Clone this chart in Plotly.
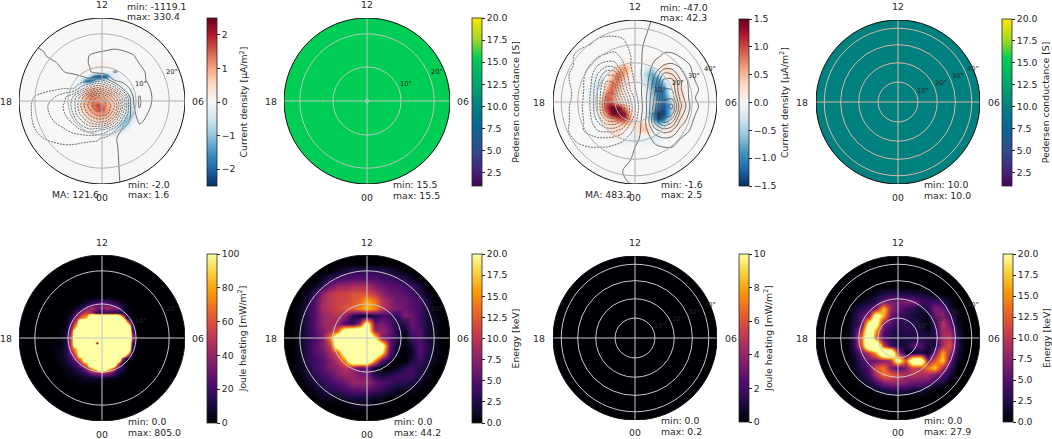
import numpy as np
import plotly.graph_objects as go
import plotly.express as px

W, H = 1052, 439
S = 300  # saturated well past the colourbar top

zero_row = [0] * 21

# current density, panel 1, tenths of uA/m2, grid spans +-0.5 of the disc radius
current_a = [
    zero_row,
    [0, 0, 0, 0, 0, 0, 0, 0, 1, 1, 1, 1, 1, 0, 0, 0, 0, 0, 0, 0, 0],
    [0, 0, 0, 0, 0, 0, 1, 1, 2, 3, 3, 2, 1, 1, 0, 0, 0, 0, 0, 0, 0],
    [0, 0, 0, 0, 0, 1, 1, 0, -1, -3, -3, -3, -3, -2, -1, 0, 0, 0, 0, 0, 0],
    [0, 0, 0, 0, 0, 0, -1, -8, -18, -22, -22, -20, -6, -3, -2, -1, 0, 0, 0, 0, 0],
    [0, 0, 0, 0, -1, -6, -18, -20, -12, -6, -3, -2, -2, -2, -1, -1, 0, 0, 0, 0, 0],
    [0, 0, 0, 0, -2, -5, -4, -1, 2, 2, 2, 2, 1, -1, -1, -1, -1, 0, 0, 0, 0],
    [0, 0, 0, -1, -3, -1, 4, 7, 8, 7, 6, 5, 4, 2, 1, -1, -2, -1, 0, 0, 0],
    [0, 0, 0, -1, -2, 2, 7, 11, 11, 9, 8, 7, 6, 4, 2, 0, -2, -2, 0, 0, 0],
    [0, 0, 0, -1, -1, 5, 9, 12, 12, 10, 9, 8, 7, 5, 3, 1, -3, -3, -1, 0, 0],
    [0, 0, 0, -1, 1, 6, 9, 11, 13, 13, 11, 9, 7, 5, 3, 1, -3, -5, -1, 0, 0],
    [0, 0, 0, -1, 1, 6, 8, 10, 14, 16, 14, 10, 8, 5, 3, 1, -4, -6, -2, 0, 0],
    [0, 0, 0, -1, 1, 4, 7, 9, 12, 15, 16, 11, 8, 5, 3, 1, -4, -7, -2, 0, 0],
    [0, 0, 0, -1, -1, 3, 6, 8, 9, 11, 12, 10, 7, 5, 3, -1, -6, -8, -2, 0, 0],
    [0, 0, 0, 0, -1, 1, 4, 5, 7, 8, 8, 7, 6, 4, 2, -3, -10, -6, -1, 0, 0],
    [0, 0, 0, 0, -1, -1, 2, 4, 4, 5, 5, 5, 4, 2, -1, -8, -12, -3, 0, 0, 0],
    [0, 0, 0, 0, 0, -1, -1, 1, 2, 2, 2, 2, 1, -2, -6, -12, -6, -1, 0, 0, 0],
    [0, 0, 0, 0, 0, 0, -1, -1, -1, -1, -1, -1, -2, -4, -6, -3, -1, 0, 0, 0, 0],
    [0, 0, 0, 0, 0, 0, 0, -1, -1, -1, -1, -2, -3, -3, -2, 0, 0, 1, 0, 0, 0],
    zero_row,
    zero_row,
]

# current density, panel 3, tenths of uA/m2, grid spans +-0.7
current_b = [
    zero_row,
    zero_row,
    zero_row,
    [0, 0, 0, 0, 0, 0, 0, 0, 1, 1, 0, 0, 1, 1, 1, 0, 0, 0, 0, 0, 0],
    [0, 0, 0, 0, 0, -1, 0, 4, 7, 3, 0, 0, -2, -4, 1, 3, 2, 0, 0, 0, 0],
    [0, 0, 0, 0, -1, -1, 4, 8, 6, 2, 0, -1, -5, -8, -3, 1, 3, 2, 0, 0, 0],
    [0, 0, 0, -1, -2, 1, 6, 8, 4, 1, 0, -1, -4, -8, -9, -3, 2, 3, 1, 0, 0],
    [0, 0, -1, -2, -2, 4, 9, 6, 2, 1, 0, 0, -3, -8, -10, -7, 0, 3, 2, 0, 0],
    [0, 0, -1, -2, -1, 7, 9, 4, 1, 0, 0, 0, -2, -6, -11, -10, -2, 3, 3, 0, 0],
    [0, 0, -1, -2, 2, 9, 8, 3, 1, 0, 0, 0, -1, -5, -10, -11, -4, 2, 3, 0, 0],
    [0, 0, -1, -2, 4, 10, 9, 3, 1, 0, 0, 0, -1, -4, -9, -12, -6, 2, 3, 1, 0],
    [0, 0, 0, -2, 4, 11, 15, 15, 8, 2, 0, 0, -1, -5, -11, -13, -7, 2, 3, 1, 0],
    [0, 0, 0, -1, 3, 8, 14, 15, 14, 5, 0, 0, -2, -8, -15, -14, -7, 2, 3, 0, 0],
    [0, 0, 0, -1, 1, 4, 6, 9, 11, 6, 1, 1, -1, -6, -14, -11, -3, 3, 2, 0, 0],
    [0, 0, 0, 0, 0, 2, 3, 3, 4, 3, 2, 4, 3, 0, -5, -3, 1, 3, 1, 0, 0],
    [0, 0, 0, 0, 0, 1, 3, 3, 1, -1, 1, 4, 4, 1, -1, 1, 2, 1, 0, 0, 0],
    [0, 0, 0, 0, 0, 0, 1, 2, 1, -1, -2, -1, -1, -2, -2, 0, 0, 0, 0, 0, 0],
    [0, 0, 0, 0, 0, 0, 0, -1, -1, -1, -1, -1, -1, -1, -1, 0, 0, 0, 0, 0, 0],
    zero_row,
    zero_row,
    zero_row,
]

# potential behind the contour lines, rows/cols on pot_axis
pot_axis = [-1, -.85, -.7, -.55, -.45, -.35, -.25, -.15, -.05, .05, .15, .25, .35, .45, .55, .7, .85, 1]

potential_a = [
    [5, 5, 5, 5, 5, 8, 10, 12, 15, 15, 15, 15, 15, 15, 12, 10, 8, 5],
    [5, 5, 5, 5, 8, 15, 20, 30, 35, 40, 40, 40, 35, 30, 25, 15, 10, 5],
    [0, 2, 5, 10, 20, 35, 50, 60, 70, 75, 80, 75, 70, 60, 45, 25, 15, 8],
    [-15, -10, -2, 12, 30, 55, 85, 100, 110, 115, 120, 115, 105, 90, 65, 35, 20, 10],
    [-25, -20, -10, -2, 10, 35, 70, 105, 130, 150, 170, 160, 130, 100, 75, 40, 22, 10],
    [-30, -25, -18, -10, 0, 15, 40, 90, 140, 170, 205, 190, 150, 120, 90, 50, 25, 12],
    [-40, -38, -35, -35, -40, -50, -40, -30, -150, -60, 100, 140, 130, 120, 95, 55, 28, 12],
    [-50, -50, -60, -80, -100, -100, -250, -450, -550, -450, -250, 0, 120, 140, 110, 60, 30, 14],
    [-70, -90, -140, -210, -280, -400, -650, -850, -1000, -850, -650, -350, 60, 210, 120, 62, 30, 14],
    [-70, -100, -175, -250, -310, -430, -720, -950, -1119, -1000, -820, -420, 40, 215, 115, 60, 28, 13],
    [-70, -100, -170, -240, -300, -400, -650, -850, -960, -950, -700, -300, 20, 170, 100, 55, 26, 12],
    [-65, -95, -155, -210, -250, -320, -470, -640, -720, -680, -450, -120, 40, 110, 85, 45, 22, 10],
    [-55, -85, -130, -170, -190, -240, -300, -360, -320, -250, -120, 20, 60, 70, 60, 35, 18, 8],
    [-40, -70, -100, -120, -130, -130, -120, -115, -110, -70, -10, 25, 35, 40, 35, 22, 12, 5],
    [-30, -50, -75, -85, -90, -90, -85, -80, -75, -45, -8, 12, 20, 22, 20, 15, 8, 4],
    [-20, -30, -45, -55, -60, -60, -55, -52, -50, -30, -6, 6, 10, 10, 10, 8, 5, 2],
    [-10, -15, -22, -30, -30, -30, -30, -28, -25, -15, -4, 3, 5, 5, 5, 4, 2, 1],
    [-5, -8, -10, -12, -12, -12, -12, -12, -10, -8, -2, 1, 2, 2, 2, 2, 1, 1],
]

potential_b = [
    [-1, -1, -2, -2, -2, -2, -3, -3, -3, -2, -1, 1, 1, 1, 1, 1, 1, 1],
    [-1, -2, -3, -4, -4, -4, -4, -4, -3, -2, 0, 1, 2, 2, 2, 2, 1, 1],
    [-2, -3, -4, -5, -6, -7, -7, -6, -4, -1, 1, 2, 3, 3, 3, 2, 2, 1],
    [-2, -3, -6, -8, -10, -11, -12, -9, -5, -1, 2, 4, 6, 6, 5, 3, 2, 1],
    [-2, -3, -6, -10, -15, -18, -17, -11, -5, -1, 2, 7, 10, 11, 9, 4, 2, 1],
    [-2, -4, -7, -12, -20, -28, -28, -15, -6, -1, 3, 10, 20, 19, 12, 5, 2, 1],
    [-3, -4, -7, -13, -24, -35, -34, -18, -7, -2, 4, 13, 27, 28, 16, 6, 2, 1],
    [-3, -4, -6, -14, -26, -38, -38, -22, -9, -2, 5, 15, 30, 30, 16, 7, 3, 1],
    [-3, -4, -6, -15, -26, -42, -42, -28, -14, -3, 6, 17, 33, 34, 19, 6, 2, 1],
    [-3, -4, -7, -15, -26, -44, -47, -33, -17, -4, 6, 19, 38, 42, 22, 7, 3, 1],
    [-3, -4, -7, -14, -25, -38, -43, -32, -16, -3, 6, 21, 38, 36, 18, 6, 2, 1],
    [-3, -4, -7, -13, -20, -27, -28, -22, -10, -2, 7, 22, 30, 25, 13, 5, 2, 1],
    [-2, -4, -8, -12, -15, -16, -16, -12, -6, -1, 5, 13, 17, 15, 8, 4, 2, 1],
    [-2, -3, -6, -8, -9, -9, -8, -6, -3, 0, 3, 7, 9, 8, 5, 3, 1, 1],
    [-1, -2, -4, -5, -5, -5, -4, -3, -1, 1, 2, 4, 5, 5, 3, 2, 1, 0],
    [-1, -2, -2, -3, -3, -2, -1, 0, 0, 1, 2, 2, 3, 3, 2, 1, 1, 0],
    [-1, -1, -1, -1, -1, -1, 0, 0, 1, 1, 1, 1, 1, 1, 1, 1, 0, 0],
    [-1, -1, -1, -1, -1, 0, 0, 0, 0, 0, 1, 1, 1, 1, 1, 0, 0, 0],
]

# joule heating mW/m2, panel 5, grid spans +-0.6
joule_a = [
    zero_row,
    zero_row,
    [0, 0, 0, 0, 0, 0, 0, 1, 2, 3, 3, 3, 2, 1, 0, 0, 0, 0, 0, 0, 0],
    [0, 0, 0, 0, 0, 1, 3, 8, 15, 20, 25, 25, 20, 12, 5, 1, 0, 0, 0, 0, 0],
    [0, 0, 0, 0, 1, 5, 15, 35, 45, 35, 35, 45, 40, 35, 15, 3, 1, 0, 0, 0, 0],
    [0, 0, 0, 1, 5, 25, 45, 55, 40, 15, 10, 15, 12, 15, 10, 8, 2, 0, 0, 0, 0],
    [0, 0, 0, 2, 15, 45, 70, 90, S, S, S, S, S, S, 120, 8, 3, 0, 0, 0, 0],
    [0, 0, 1, 5, 30, 70, S, S, S, S, S, S, S, S, S, 100, 8, 1, 0, 0, 0],
    [0, 0, 1, 8, 45, 110, S, S, S, S, S, S, S, S, S, S, 20, 1, 0, 0, 0],
    [0, 0, 2, 10, 60, S, S, S, S, S, S, S, S, S, S, S, 40, 1, 0, 0, 0],
    [0, 0, 2, 12, 70, S, S, S, S, S, S, S, S, S, S, S, 60, 2, 0, 0, 0],
    [0, 1, 3, 15, 70, S, S, S, S, 0, S, S, S, S, S, S, 30, 1, 0, 0, 0],
    [1, 2, 4, 15, 60, 100, S, S, S, S, S, S, S, S, S, S, 12, 1, 0, 0, 0],
    [1, 3, 5, 15, 40, 80, S, S, S, S, S, S, S, S, S, 120, 5, 1, 0, 0, 0],
    [0, 2, 5, 12, 25, 60, 90, S, S, S, S, S, S, S, 60, 5, 2, 0, 0, 0, 0],
    [0, 1, 3, 8, 15, 25, 60, 90, S, S, S, S, S, 90, 10, 2, 1, 0, 0, 0, 0],
    [0, 0, 2, 4, 8, 15, 25, 45, 85, 120, S, 120, 80, 25, 15, 2, 0, 0, 0, 0, 0],
    [0, 0, 1, 2, 4, 8, 12, 20, 35, 40, 45, 40, 30, 12, 3, 1, 0, 0, 0, 0, 0],
    [0, 0, 0, 1, 2, 3, 5, 7, 8, 9, 8, 6, 4, 2, 1, 0, 0, 0, 0, 0, 0],
    [0, 0, 0, 0, 1, 1, 2, 2, 2, 2, 2, 1, 1, 0, 0, 0, 0, 0, 0, 0, 0],
    zero_row,
]

# energy keV, panels 6 and 8, grids span +-0.9
energy_a = [
    zero_row,
    [0, 0, 0, 0, 0, 0, 1, 2, 3, 3, 3, 3, 3, 2, 1, 0, 0, 0, 0, 0, 0],
    [0, 0, 0, 0, 1, 3, 4, 5, 5, 5, 5, 5, 4, 4, 3, 3, 1, 0, 0, 0, 0],
    [0, 0, 0, 1, 3, 6, 8, 8, 9, 9, 9, 7, 6, 5, 5, 4, 4, 2, 0, 0, 0],
    [0, 0, 1, 3, 8, 10, 11, 11, 12, 12, 12, 10, 8, 6, 6, 5, 4, 3, 1, 0, 0],
    [0, 0, 2, 5, 9, 10, 11, 11, 12, 13, 16, 14, 10, 8, 6, 6, 5, 4, 2, 0, 0],
    [0, 1, 3, 5, 9, 10, 11, 12, 13, 15, 17, 15, 10, 8, 7, 6, 5, 4, 2, 0, 0],
    [0, 1, 3, 5, 8, 9, 10, 8, 3, 1, 1, 2, 4, 4, 3, 7, 6, 4, 2, 1, 0],
    [0, 1, 3, 5, 8, 9, 8, 4, 3, 8, 24, 6, 7, 5, 2, 3, 6, 4, 2, 1, 0],
    [0, 1, 3, 5, 7, 9, 12, 25, 28, 28, 25, 8, 8, 6, 3, 1, 5, 5, 2, 1, 0],
    [0, 1, 3, 4, 7, 14, 28, 30, 30, 30, 30, 20, 7, 5, 3, 0, 4, 5, 2, 1, 0],
    [0, 1, 3, 5, 7, 10, 25, 30, 30, 30, 30, 30, 25, 6, 2, 0, 2, 5, 3, 1, 0],
    [0, 1, 3, 5, 6, 9, 12, 24, 30, 30, 30, 30, 20, 5, 1, 0, 1, 5, 3, 1, 0],
    [0, 1, 3, 4, 5, 7, 10, 14, 28, 30, 30, 15, 5, 2, 0, 0, 2, 4, 2, 1, 0],
    [0, 1, 2, 4, 5, 7, 8, 10, 8, 5, 6, 1, 0, 0, 1, 3, 4, 3, 1, 0, 0],
    [0, 0, 2, 3, 4, 5, 7, 8, 8, 7, 7, 3, 2, 3, 4, 4, 4, 2, 1, 0, 0],
    [0, 0, 1, 2, 3, 4, 5, 6, 8, 8, 8, 6, 5, 4, 3, 3, 2, 1, 0, 0, 0],
    [0, 0, 0, 1, 2, 3, 3, 4, 5, 5, 5, 4, 3, 2, 1, 1, 1, 0, 0, 0, 0],
    [0, 0, 0, 0, 1, 1, 1, 2, 2, 2, 2, 1, 1, 0, 0, 0, 0, 0, 0, 0, 0],
    [0, 0, 0, 0, 0, 0, 0, 0, 1, 1, 1, 0, 0, 0, 0, 0, 0, 0, 0, 0, 0],
    zero_row,
]

energy_b = [
    zero_row,
    zero_row,
    zero_row,
    zero_row,
    [0, 0, 0, 0, 0, 0, 0, 1, 2, 3, 3, 2, 2, 2, 1, 0, 0, 0, 0, 0, 0],
    [0, 0, 0, 0, 0, 1, 2, 3, 6, 7, 6, 7, 7, 4, 4, 4, 3, 1, 0, 0, 0],
    [0, 0, 0, 0, 1, 3, 4, 7, 18, 8, 6, 4, 3, 2, 3, 7, 6, 2, 0, 0, 0],
    [0, 0, 0, 0, 2, 5, 7, 24, 16, 6, 4, 3, 2, 1, 1, 6, 8, 4, 1, 0, 0],
    [0, 0, 0, 0, 2, 5, 22, 24, 7, 5, 3, 3, 3, 2, 0, 3, 10, 6, 1, 0, 0],
    [0, 0, 0, 0, 3, 10, 28, 16, 5, 3, 2, 3, 3, 2, 1, 3, 9, 8, 2, 0, 0],
    [0, 0, 0, 0, 3, 14, 30, 12, 4, 3, 2, 2, 2, 3, 3, 2, 9, 10, 3, 0, 0],
    [0, 0, 0, 0, 3, 12, 30, 32, 10, 4, 2, 2, 5, 5, 2, 2, 9, 12, 3, 0, 0],
    [0, 0, 0, 0, 2, 6, 10, 16, 32, 32, 9, 1, 1, 2, 1, 6, 16, 9, 2, 0, 0],
    [0, 0, 0, 0, 1, 4, 6, 6, 7, 9, 24, 12, 28, 28, 7, 12, 18, 6, 1, 0, 0],
    [0, 0, 0, 0, 1, 3, 5, 12, 14, 7, 4, 7, 11, 11, 14, 18, 9, 4, 0, 0, 0],
    [0, 0, 0, 0, 0, 2, 4, 9, 14, 13, 11, 9, 10, 9, 9, 7, 5, 2, 0, 0, 0],
    [0, 0, 0, 0, 0, 1, 2, 4, 7, 8, 8, 7, 6, 6, 5, 3, 2, 0, 0, 0, 0],
    [0, 0, 0, 0, 0, 0, 0, 1, 2, 3, 3, 3, 2, 2, 1, 0, 0, 0, 0, 0, 0],
    zero_row,
    zero_row,
    zero_row,
]

pedersen_a = [[15.5, 15.5], [15.5, 15.5]]
pedersen_b = [[10.0, 10.0], [10.0, 10.0]]
joule_b = [[0, 0], [0, 0]]

rdbu = px.colors.diverging.RdBu[::-1]
inferno = px.colors.sequential.Inferno
pedersen_scale = [
    [0, "#440154"], [.08, "rgb(72,30,120)"], [.21, "rgb(50,75,140)"], [.34, "rgb(10,100,150)"],
    [.47, "rgb(0,128,128)"], [.605, "rgb(0,165,110)"], [.763, "rgb(0,205,85)"],
    [.87, "rgb(160,215,40)"], [1, "rgb(255,230,0)"],
]

currents_ticks = [-2, -1, 0, 1, 2]
half_ticks = [-1.5, -1, -.5, 0, .5, 1, 1.5]
cond_ticks = [2.5, 5, 7.5, 10, 12.5, 15, 17.5, 20]
joule_a_ticks = [0, 20, 40, 60, 80, 100]
joule_b_ticks = [0, 2, 4, 6, 8, 10]
energy_ticks = [0, 2.5, 5, 7.5, 10, 12.5, 15, 17.5, 20]

# cx, cy, radius, bar left, bar top, bar bottom are pixels on the photographed page
panels = [
    dict(z=np.array(current_a) / 10, span=.5, cs=rdbu, lim=(-2.5, 2.5), ticks=currents_ticks, fmt=None,
         title="Current density [µA/m<sup>2</sup>]", pot=potential_a, pot_levels=(-1100, -100, 0, 300, 100),
         cx=102, cy=101, r=83, bar=(207, 18, 186), rmax=25, rings=[10, 20], labels=[(10, 39, 17), (20, 70, 29)],
         bg="#f7f7f7", ring_c="#b0b0b0", minmax=[(127, 7, 17, "-1119.1", "330.4"), (128, 184, 194, "-2.0", "1.6")],
         ma=(52, 194, "121.6"), tick_y=(5, 197)),
    dict(z=pedersen_a, span=1, cs=pedersen_scale, lim=(1, 20), ticks=cond_ticks, fmt=".1f",
         title="Pedersen conductance [S]", cx=367, cy=101, r=83, bar=(472, 18, 186), rmax=25, rings=[.5, 10, 20],
         labels=[(10, 39, 17), (20, 70, 29)], bg="#00cd55", ring_c="#b8c8b8",
         minmax=[(393, 184, 195, "15.5", "15.5")], tick_y=(5, 197)),
    dict(z=np.array(current_b) / 10, span=.7, cs=rdbu, lim=(-1.5, 1.5), ticks=half_ticks, fmt=".1f",
         title="Current density [µA/m<sup>2</sup>]", pot=potential_b, pot_levels=(-45, -5, 0, 40, 5),
         cx=635, cy=102, r=82, bar=(739, 19, 186), rmax=45.6, rings=[10, 20, 30, 40],
         labels=[(10, 25, 12), (20, 43, 19), (30, 59, 26), (40, 75, 33)],
         bg="#f7f7f7", ring_c="#b0b0b0", minmax=[(660, 8, 18, "-47.0", "42.3"), (661, 184, 194, "-1.6", "2.5")],
         ma=(585, 194, "483.2"), tick_y=(7, 197)),
    dict(z=pedersen_b, span=1, cs=pedersen_scale, lim=(1, 20), ticks=cond_ticks, fmt=".1f",
         title="Pedersen conductance [S]", cx=898, cy=102, r=82, bar=(1002, 19, 186), rmax=45.6, rings=[10, 20, 30, 40],
         labels=[(10, 25, 11), (20, 43, 19), (30, 60, 26), (40, 75, 33)], bg="#008080", ring_c="#d8b8a8",
         minmax=[(924, 184, 195, "10.0", "10.0")], tick_y=(7, 197)),
    dict(z=joule_a, span=.6, cs=inferno, lim=(0, 100), ticks=joule_a_ticks, fmt=None,
         title="Joule heating [mW/m<sup>2</sup>]", cx=102, cy=338, r=83, bar=(207, 254, 423), rmax=25, rings=[10, 20],
         labels=[(10, 39, 17), (20, 70, 29)], bg="#000004", ring_c="#c8c8c8",
         minmax=[(128, 421, 432, "0.0", "805.0")], tick_y=(242, 434)),
    dict(z=energy_a, span=.9, cs=inferno, lim=(0, 20), ticks=energy_ticks, fmt=".1f",
         title="Energy [keV]", cx=367, cy=338, r=83, bar=(472, 254, 423), rmax=25, rings=[10, 20],
         labels=[(10, 39, 17), (20, 70, 29)], bg="#000004", ring_c="#c8c8c8",
         minmax=[(394, 421, 432, "0.0", "44.2")], tick_y=(242, 434)),
    dict(z=joule_b, span=1, cs=inferno, lim=(0, 10), ticks=joule_b_ticks, fmt=None,
         title="Joule heating [mW/m<sup>2</sup>]", cx=635, cy=338, r=82, bar=(739, 254, 422), rmax=45.6,
         rings=[10, 20, 30, 40], labels=[(10, 25, 12), (20, 43, 19), (30, 59, 26), (40, 75, 33)], bg="#000004",
         ring_c="#c8c8c8", minmax=[(661, 420, 431, "0.0", "0.2")], tick_y=(242, 432)),
    dict(z=energy_b, span=.9, cs=inferno, lim=(0, 20), ticks=energy_ticks, fmt=".1f",
         title="Energy [keV]", cx=898, cy=338, r=82, bar=(1003, 254, 422), rmax=45.6, rings=[10, 20, 30, 40],
         labels=[(10, 25, 12), (20, 43, 19), (30, 59, 26), (40, 75, 33)], bg="#000004", ring_c="#c8c8c8",
         minmax=[(924, 420, 431, "0.0", "27.9")], tick_y=(242, 432)),
]


def fx(p):
    return p / W


def fy(p):
    return 1 - p / H


theta = np.linspace(0, 2 * np.pi, 241)
circle = " ".join(f"L{np.cos(t):.4f},{np.sin(t):.4f}" for t in theta).replace("L", "M", 1)
mask_path = f"M-1.2,-1.2 L1.2,-1.2 L1.2,1.2 L-1.2,1.2 Z {circle} Z"

fig = go.Figure()
shapes = []
notes = []
dark = "#262626"


def note(x, y, text, size=9.3, anchor="center"):
    notes.append(dict(x=fx(x), y=fy(y), xref="paper", yref="paper", text=text, showarrow=False, xanchor=anchor,
                      yanchor="middle", font=dict(size=size, color=dark), borderpad=0, borderwidth=0))


for n, p in enumerate(panels, start=1):
    xa, ya = f"x{n}", f"y{n}"
    fig.update_layout(**{
        f"xaxis{n}": dict(domain=[fx(p["cx"] - p["r"]), fx(p["cx"] + p["r"])], range=[-1, 1], visible=False,
                          anchor=ya, fixedrange=True),
        f"yaxis{n}": dict(domain=[fy(p["cy"] + p["r"]), fy(p["cy"] - p["r"])], range=[-1, 1], visible=False,
                          anchor=xa, fixedrange=True),
    })

    z = np.asarray(p["z"], dtype=float)
    grid_x = np.linspace(-p["span"], p["span"], z.shape[1])
    grid_y = np.linspace(p["span"], -p["span"], z.shape[0])
    left, top, bottom = p["bar"]
    fig.add_trace(go.Heatmap(
        z=z, x=grid_x, y=grid_y, xaxis=xa, yaxis=ya, colorscale=p["cs"], zmin=p["lim"][0], zmax=p["lim"][1],
        zsmooth="best" if z.shape[0] > 2 else False, hoverinfo="skip",
        colorbar=dict(x=fx(left), xanchor="left", xpad=0, y=fy(top), yanchor="top", ypad=0, lenmode="pixels",
                      len=bottom - top, thicknessmode="pixels", thickness=9.5, outlinewidth=.8, outlinecolor=dark,
                      tickmode="array", tickvals=p["ticks"], tickformat=p["fmt"], ticks="outside", ticklen=3,
                      tickwidth=.8, tickcolor=dark, tickfont=dict(size=9.3, color=dark),
                      title=dict(text=p["title"], side="right", font=dict(size=9.3, color=dark))),
    ))

    if "pot" in p:
        lo, hi, z0, top_lv, step = p["pot_levels"]
        for start, end, dash in [(lo, hi, "2px,1px"), (z0, top_lv, "solid")]:
            fig.add_trace(go.Contour(
                z=p["pot"], x=pot_axis, y=pot_axis[::-1], xaxis=xa, yaxis=ya, showscale=False, hoverinfo="skip",
                contours=dict(coloring="none", start=start, end=end, size=step),
                line=dict(color="#4a4a4a", width=.8, dash=dash, smoothing=1),
            ))

    # disc, mask, rings and frame
    shapes.append(dict(type="circle", xref=xa, yref=ya, x0=-1, x1=1, y0=-1, y1=1, fillcolor=p["bg"],
                       line_width=0, layer="below"))
    shapes.append(dict(type="path", xref=xa, yref=ya, path=mask_path, fillcolor="white", line_width=0,
                       fillrule="evenodd", layer="above"))
    scale = np.sin(np.radians(p["rmax"]))
    for colat in p["rings"]:
        rr = np.sin(np.radians(colat)) / scale
        shapes.append(dict(type="circle", xref=xa, yref=ya, x0=-rr, x1=rr, y0=-rr, y1=rr,
                           line=dict(color=p["ring_c"], width=1)))
    shapes.append(dict(type="line", xref=xa, yref=ya, x0=-1, x1=1, y0=0, y1=0, line=dict(color=p["ring_c"], width=1)))
    shapes.append(dict(type="line", xref=xa, yref=ya, x0=0, x1=0, y0=-1, y1=1, line=dict(color=p["ring_c"], width=1)))
    shapes.append(dict(type="circle", xref=xa, yref=ya, x0=-1, x1=1, y0=-1, y1=1,
                       line=dict(color="#111111", width=1)))

    # text
    note(p["cx"], p["tick_y"][0], "12")
    note(p["cx"], p["tick_y"][1], "00")
    note(p["cx"] - 96, p["cy"], "18")
    note(p["cx"] + 96, p["cy"], "06")
    for colat, dx, dy in p["labels"]:
        note(p["cx"] + dx, p["cy"] - dy, f"{colat}°", size=6.7)
    for x, y_min, y_max, lo_txt, hi_txt in p["minmax"]:
        note(x, y_min, f"min: {lo_txt}", anchor="left")
        note(x, y_max, f"max: {hi_txt}", anchor="left")
    if "ma" in p:
        note(p["ma"][0], p["ma"][1], f"MA: {p['ma'][2]}", anchor="left")

fig.update_layout(width=W, height=H, margin=dict(l=0, r=0, t=0, b=0), paper_bgcolor="white", plot_bgcolor="white",
                  font=dict(family="DejaVu Sans", size=9.3, color=dark), showlegend=False, shapes=shapes,
                  annotations=notes)

# the default page leaves an 8px body margin, which would push everything off the window
fig.write_html("out.html", config={"displayModeBar": False}, post_script="document.body.style.margin='0';")
